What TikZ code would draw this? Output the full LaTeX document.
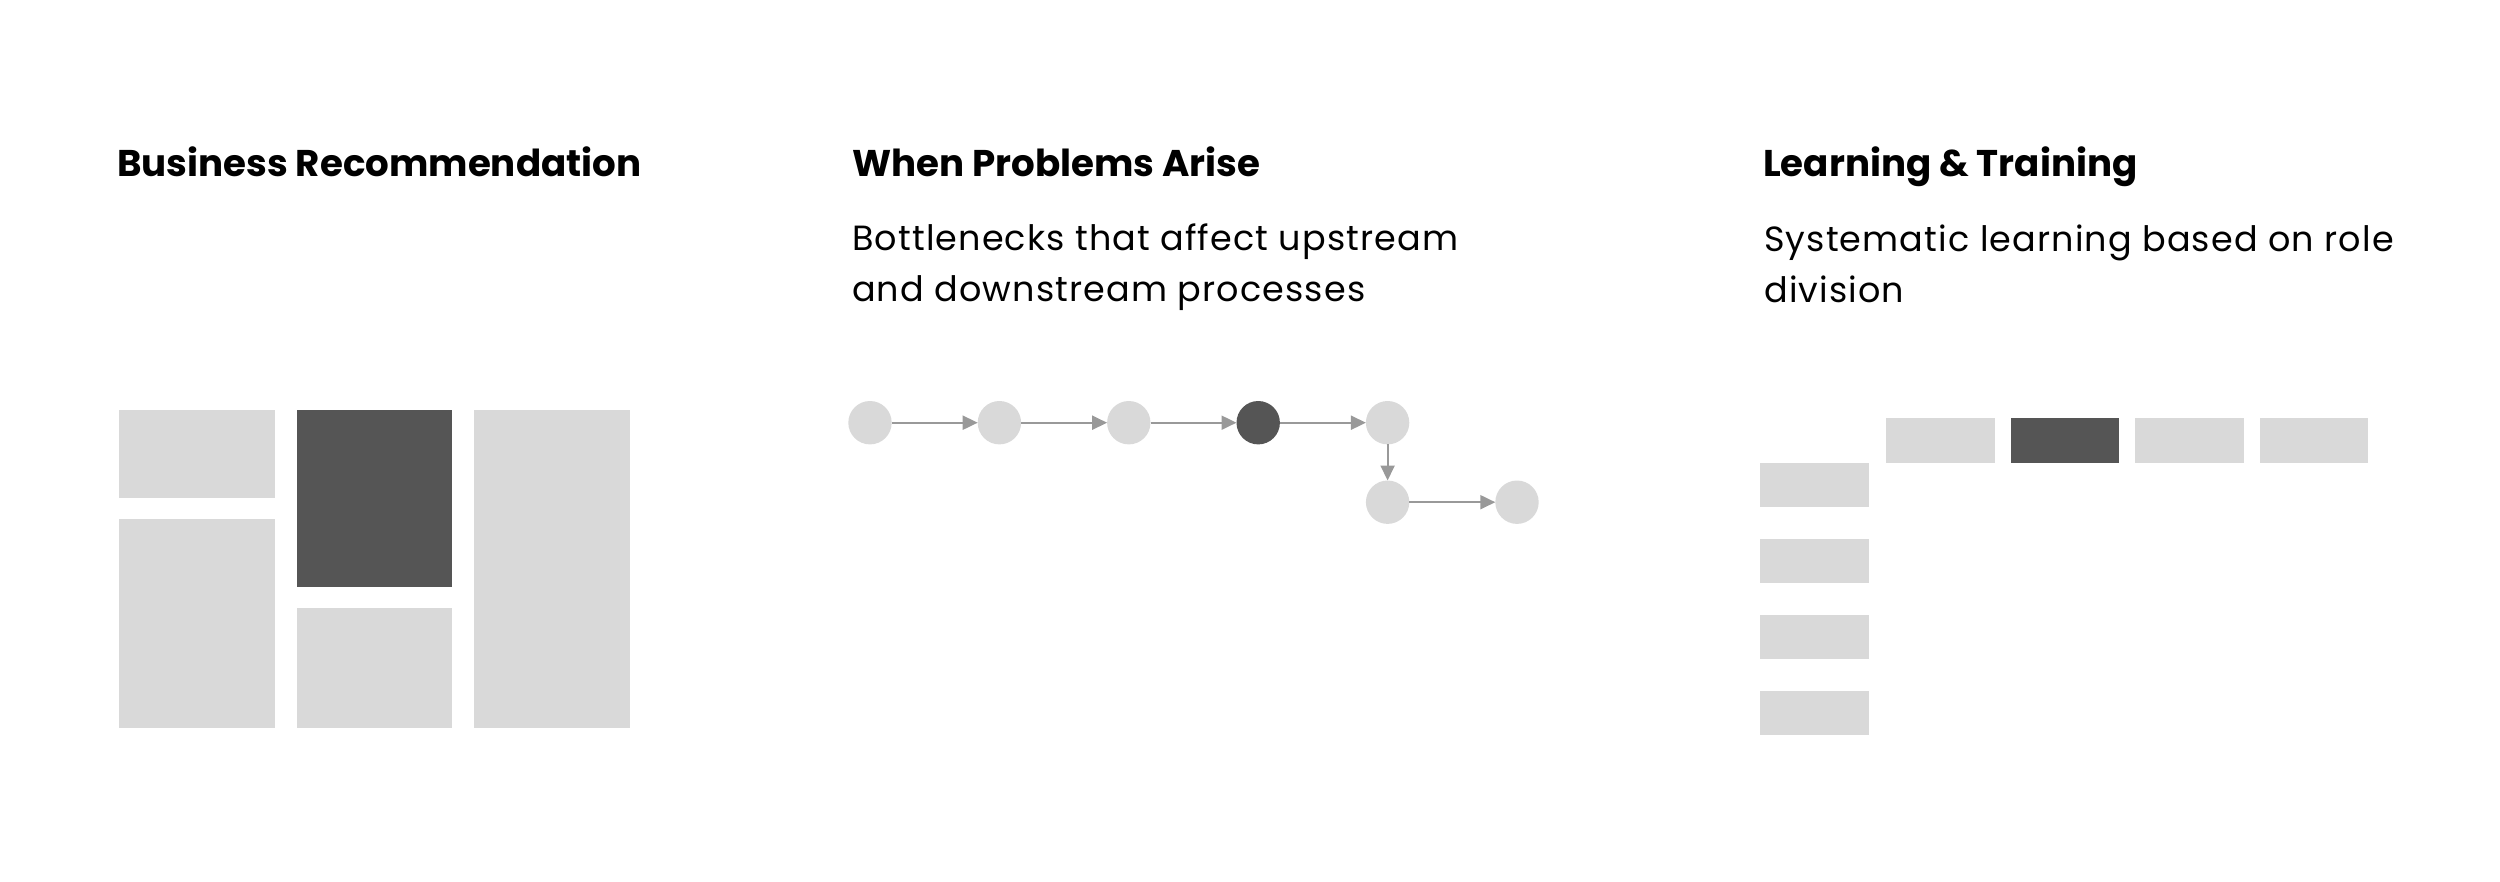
\documentclass[tikz,border=0pt]{standalone}
\usepackage{fontspec}
\setmainfont{Poppins}[Ligatures=CommonOff]
\newfontfamily\bodyfont{Poppins}[Ligatures=CommonOff,LetterSpace=3.2]
\usetikzlibrary{arrows.meta}
\definecolor{lightbox}{HTML}{D9D9D9}
\definecolor{darkbox}{HTML}{555555}
\definecolor{arrowgray}{HTML}{999999}
\tikzset{
  title/.style={anchor=base west,inner sep=0pt,font=\fontsize{37.2}{44}\selectfont\bfseries,text=black},
  body/.style={anchor=base west,inner sep=0pt,font=\bodyfont\fontsize{35}{51}\selectfont,text=black},
  lightfill/.style={fill=lightbox},
  darkfill/.style={fill=darkbox},
  dot/.style={circle,minimum size=43.4pt,inner sep=0pt,outer sep=0pt,fill=lightbox},
  hotdot/.style={dot,fill=darkbox},
  flow/.style={draw=arrowgray,line width=2pt,-{Triangle[length=15pt,width=14pt]}},
}
\begin{document}
\begin{tikzpicture}[x=1pt,y=-1pt]
\useasboundingbox (0,0) rectangle (2500,881);
% titles
\node[title] (t1) at (117,176.7) {Business Recommendation};
\node[title] (t2) at (852,176.7) {When Problems Arise};
\node[title] (t3) at (1763,176.7) {Learning \& Training};
% body texts
\node[body] (b2a) at (852,250.7) {Bottlenecks that affect upstream};
\node[body] (b2b) at (852,301.7) {and downstream processes};
\node[body] (b3a) at (1764,251) {Systematic learning based on role};
\node[body] (b3b) at (1764,302) {division};
% left panel: block layout
\fill[lightfill] (119,410) rectangle (274.5,498);
\fill[lightfill] (119,519) rectangle (274.5,728);
\fill[darkfill] (296.5,410) rectangle (452,587);
\fill[lightfill] (296.5,608) rectangle (452,728);
\fill[lightfill] (474,410) rectangle (629.5,728);
% middle panel: flow
\node[dot] (c1) at (870,422.7) {};
\node[dot] (c2) at (999.4,422.7) {};
\node[dot] (c3) at (1128.8,422.7) {};
\node[hotdot] (c4) at (1258.2,422.7) {};
\node[dot] (c5) at (1387.6,422.7) {};
\node[dot] (c6) at (1387.6,502.2) {};
\node[dot] (c7) at (1517,502.2) {};
\draw[flow] (c1) -- (c2);
\draw[flow] (c2) -- (c3);
\draw[flow] (c3) -- (c4);
\draw[flow] (c4) -- (c5);
\draw[flow] (c5) -- (c6);
\draw[flow] (c6) -- (c7);
% right panel: matrix
\fill[lightfill] (1886,418) rectangle (1994.5,462.5);
\fill[darkfill] (2010.5,418) rectangle (2119,462.5);
\fill[lightfill] (2135,418) rectangle (2243.5,462.5);
\fill[lightfill] (2259.5,418) rectangle (2368,462.5);
\fill[lightfill] (1760,462.5) rectangle (1868.5,506.5);
\fill[lightfill] (1760,538.5) rectangle (1868.5,582.5);
\fill[lightfill] (1760,614.5) rectangle (1868.5,658.5);
\fill[lightfill] (1760,690.5) rectangle (1868.5,734.5);
\end{tikzpicture}
\end{document}
